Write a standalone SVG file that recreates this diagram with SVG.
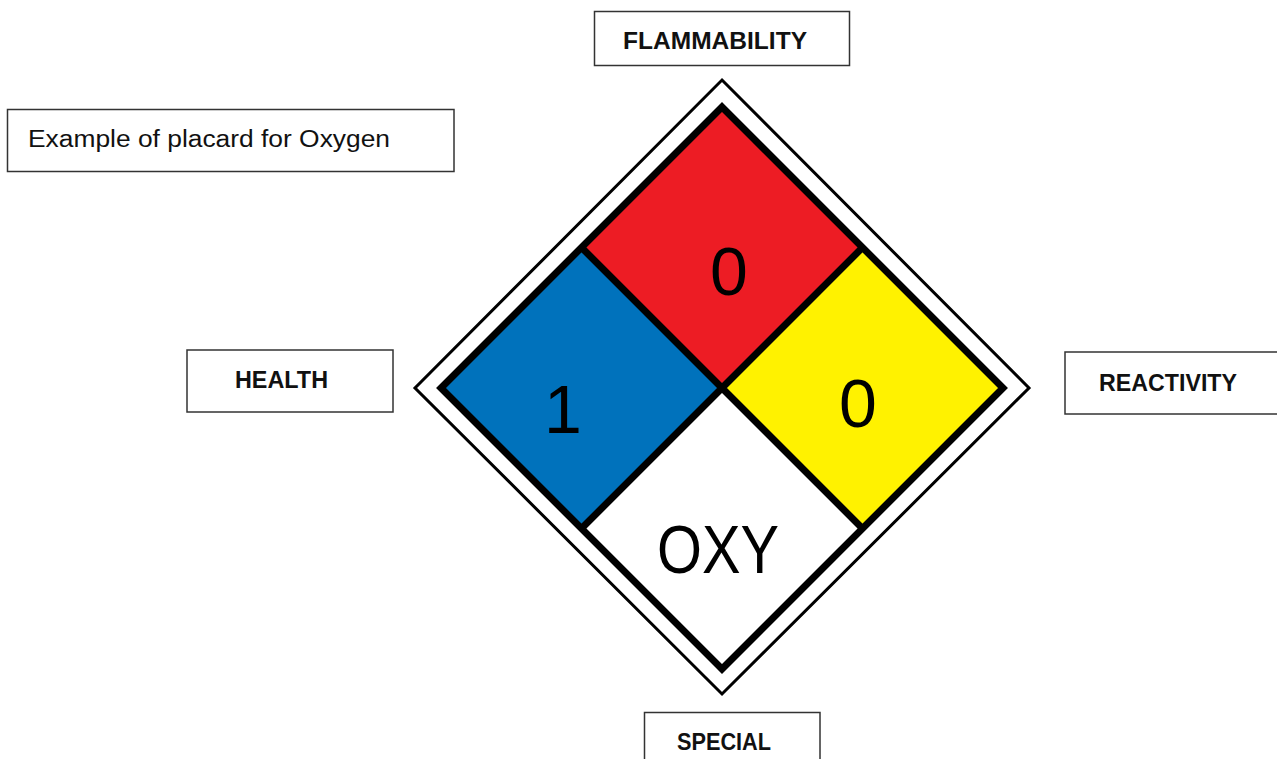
<svg xmlns="http://www.w3.org/2000/svg" width="1277" height="759" viewBox="0 0 1277 759">
<style>
.box{fill:#fff;stroke:#333;stroke-width:1.5}
.lbl{font-family:"Liberation Sans",Arial,sans-serif;font-weight:bold;font-size:23px;fill:#111}
.cap{font-family:"Liberation Sans",Arial,sans-serif;font-size:23px;fill:#111}
.big{font-family:"Liberation Sans",Arial,sans-serif;font-size:68px;fill:#000;text-anchor:middle}
</style>
<rect width="1277" height="759" fill="#fff"/>
<g id="caption">
<rect class="box" x="7.5" y="109.5" width="446.5" height="62"/>
<text class="cap" x="28" y="147" textLength="362" lengthAdjust="spacingAndGlyphs">Example of placard for Oxygen</text>
</g>
<g id="placard">
<path d="M722 80 L1029 388 L722 694 L415 388 Z" fill="#fff" stroke="#000" stroke-width="3" stroke-linejoin="miter"/>
<path d="M722 107 L862.5 247.5 L722 388 L581.5 247.5 Z" fill="#ED1C24"/>
<path d="M441 388 L581.5 247.5 L722 388 L581.5 528.5 Z" fill="#0072BC"/>
<path d="M1003 388 L862.5 247.5 L722 388 L862.5 528.5 Z" fill="#FFF200"/>
<path d="M722 669 L581.5 528.5 L722 388 L862.5 528.5 Z" fill="#fff"/>
<path d="M722 107 L1003 388 L722 669 L441 388 Z" fill="none" stroke="#000" stroke-width="7" stroke-linejoin="miter"/>
<path d="M581.5 247.5 L862.5 528.5 M862.5 247.5 L581.5 528.5" stroke="#000" stroke-width="7"/>
<text class="big" x="729" y="295">0</text>
<text class="big" x="563" y="433">1</text>
<text class="big" x="858" y="427">0</text>
<text class="big" x="718" y="573" textLength="122" lengthAdjust="spacingAndGlyphs">OXY</text>
</g>
<g id="flammability">
<rect class="box" x="594.5" y="11.5" width="255" height="54"/>
<text class="lbl" x="623" y="49" textLength="184" lengthAdjust="spacingAndGlyphs">FLAMMABILITY</text>
</g>
<g id="health">
<rect class="box" x="187" y="350" width="206" height="62"/>
<text class="lbl" x="235" y="388" textLength="93" lengthAdjust="spacingAndGlyphs">HEALTH</text>
</g>
<g id="reactivity">
<rect class="box" x="1065" y="352" width="220" height="62"/>
<text class="lbl" x="1099" y="391" textLength="138" lengthAdjust="spacingAndGlyphs">REACTIVITY</text>
</g>
<g id="special">
<rect class="box" x="644.5" y="712.5" width="175.5" height="60"/>
<text class="lbl" x="677" y="750" textLength="94" lengthAdjust="spacingAndGlyphs">SPECIAL</text>
</g>
<g id="connectors"></g>
</svg>
